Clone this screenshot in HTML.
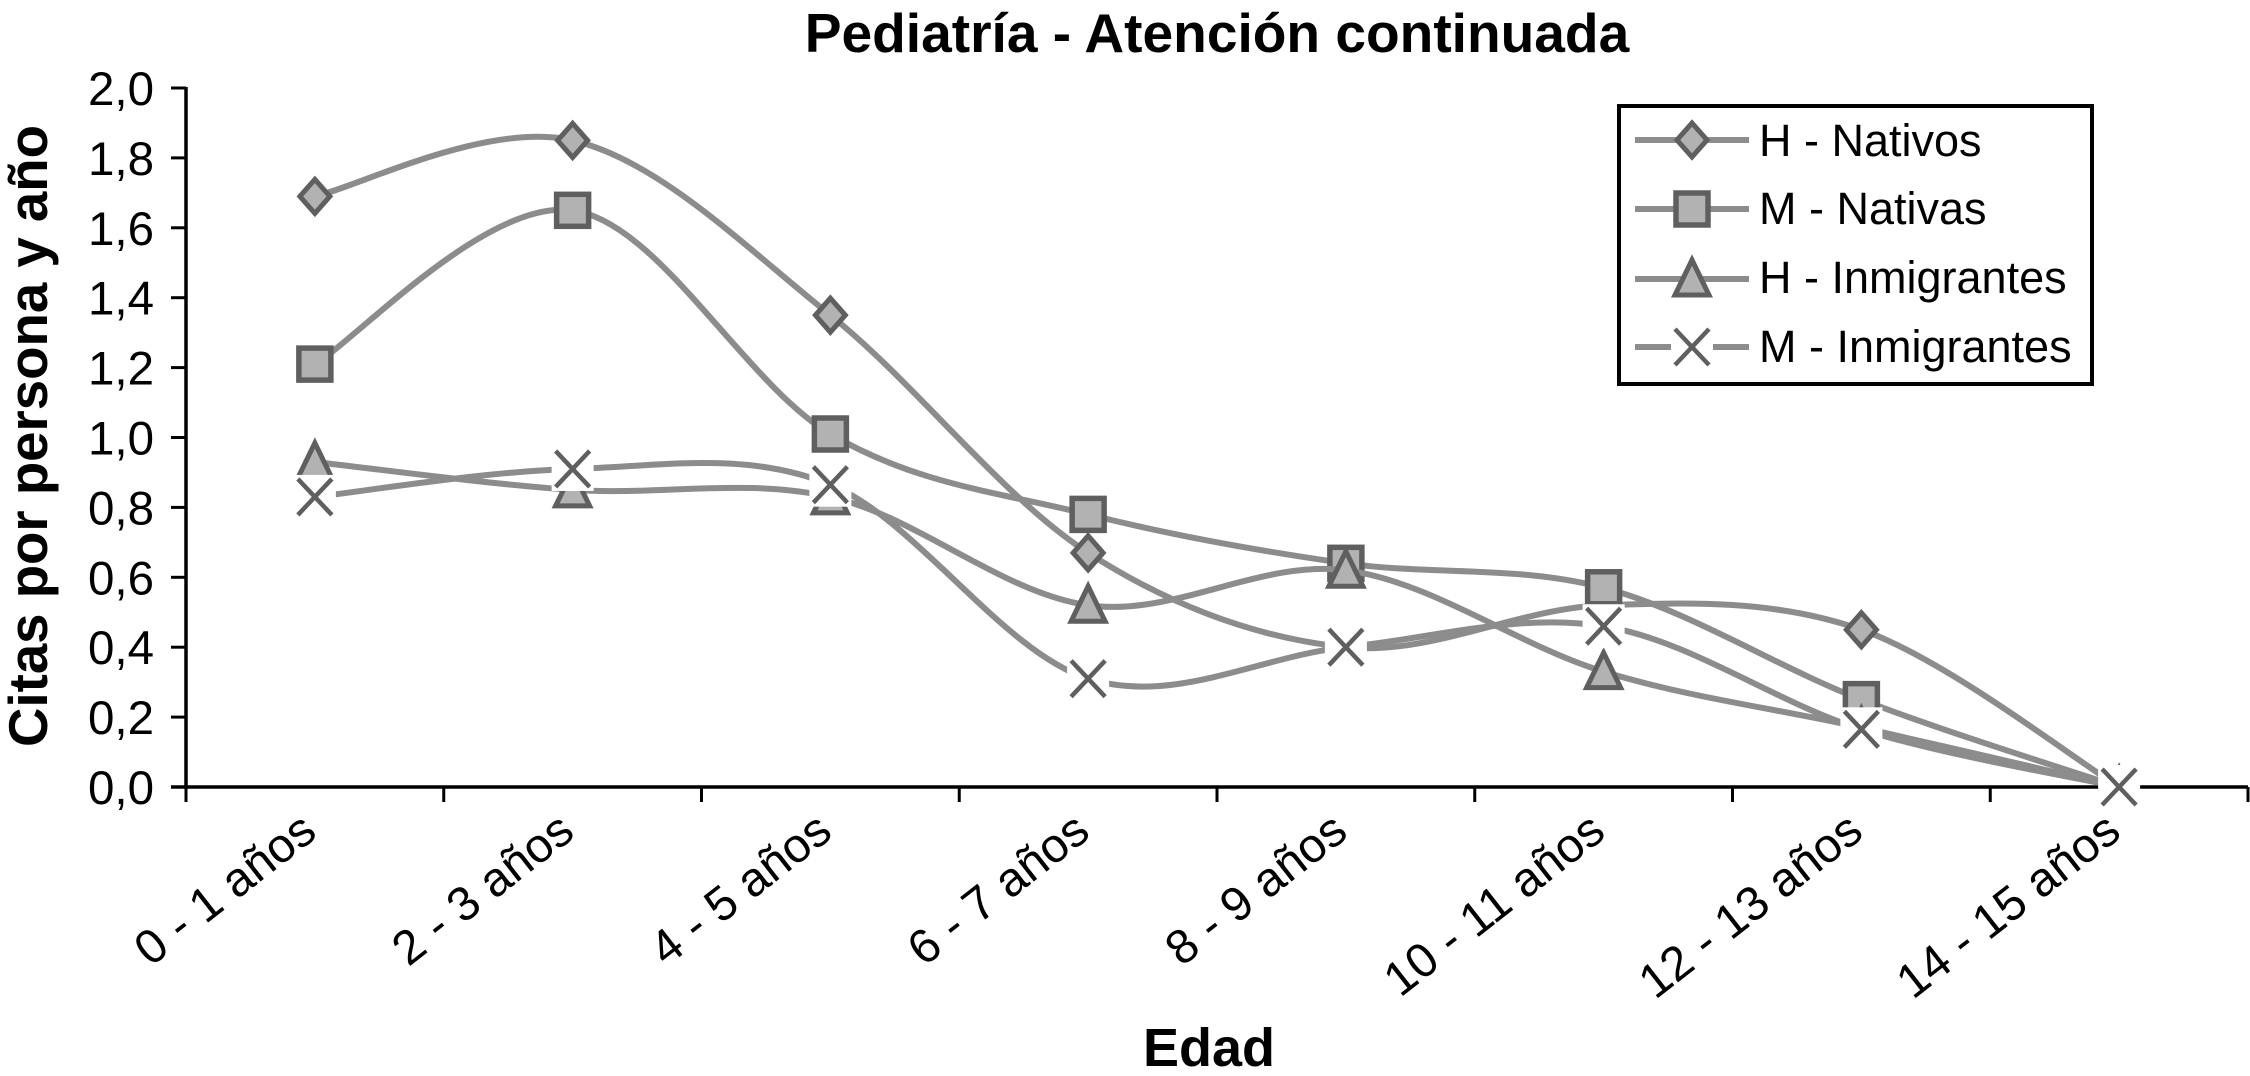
<!DOCTYPE html>
<html lang="es">
<head>
<meta charset="utf-8">
<title>Pediatría - Atención continuada</title>
<style>
html,body{margin:0;padding:0;background:#fff;width:2250px;height:1076px;overflow:hidden}
svg{display:block}
text{font-family:"Liberation Sans",Arial,sans-serif;fill:#000}
</style>
</head>
<body>
<svg id="chart" xmlns="http://www.w3.org/2000/svg" width="2250" height="1076" viewBox="0 0 2250 1076">
  <rect x="0" y="0" width="2250" height="1076" fill="#fff"/>
  <text x="1217" y="52" font-size="55.1" font-weight="700" text-anchor="middle">Pediatría - Atención continuada</text>
  <text transform="translate(47,436) rotate(-90)" font-size="54.6" font-weight="700" text-anchor="middle">Citas por persona y año</text>
  <text x="1209" y="1066" font-size="54" font-weight="700" text-anchor="middle">Edad</text>
  <g id="axes"></g>
  <g id="series"></g>
  <g id="legend">
    <rect x="1619" y="106" width="473" height="278" fill="#fff" stroke="#000" stroke-width="4"/>
  </g>
</svg>
<script>
const categories = ["0 - 1 años","2 - 3 años","4 - 5 años","6 - 7 años","8 - 9 años","10 - 11 años","12 - 13 años","14 - 15 años"];
const yTickLabels = ["0,0","0,2","0,4","0,6","0,8","1,0","1,2","1,4","1,6","1,8","2,0"];
const yTickValues = [0,0.2,0.4,0.6,0.8,1.0,1.2,1.4,1.6,1.8,2.0];
const hNativos = [1.69,1.85,1.35,0.67,0.40,0.52,0.45,0.0];
const mNativas = [1.21,1.65,1.01,0.78,0.64,0.57,0.25,0.0];
const hInmigrantes = [0.93,0.85,0.83,0.52,0.62,0.33,0.17,0.0];
const mInmigrantes = [0.83,0.91,0.865,0.31,0.40,0.46,0.165,0.0];

const NS = "http://www.w3.org/2000/svg";
const LINE = "#8c8c8c", EDGE = "#5f5f5f", FILL = "#b2b2b2";
const plot = {left:186, right:2248, top:88, bottom:787, yMax:2};

function xScale(i){ return plot.left + (plot.right-plot.left)*(i+0.5)/categories.length; }
function xEdge(i){ return plot.left + (plot.right-plot.left)*i/categories.length; }
function yScale(v){ return plot.bottom - (plot.bottom-plot.top)*v/plot.yMax; }

function mk(tag, attrs, parent){
  const el = document.createElementNS(NS, tag);
  for (const k in attrs) el.setAttribute(k, attrs[k]);
  parent.appendChild(el);
  return el;
}

function smoothPath(values){
  const p = values.map((v,i)=>[xScale(i),yScale(v)]);
  let d = "M"+p[0][0]+" "+p[0][1];
  for (let i=0;i<p.length-1;i++){
    const a = p[Math.max(i-1,0)], b = p[i], c = p[i+1], e = p[Math.min(i+2,p.length-1)];
    const c1x = b[0]+(c[0]-a[0])/6, c1y = b[1]+(c[1]-a[1])/6;
    const c2x = c[0]-(e[0]-b[0])/6, c2y = c[1]-(e[1]-b[1])/6;
    d += " C"+c1x+" "+c1y+" "+c2x+" "+c2y+" "+c[0]+" "+c[1];
  }
  return d;
}

function drawMarker(kind, cx, cy, parent){
  const r = 17;
  let el;
  if (kind === "diamond"){
    el = mk("polygon",{points:(cx)+","+(cy-r)+" "+(cx+r-2)+","+cy+" "+cx+","+(cy+r)+" "+(cx-r+2)+","+cy,fill:FILL,stroke:EDGE,"stroke-width":5,"stroke-linejoin":"miter"},parent);
  } else if (kind === "square"){
    el = mk("rect",{x:cx-r+1,y:cy-r+1,width:2*r-2,height:2*r-2,fill:FILL,stroke:EDGE,"stroke-width":5.5},parent);
  } else if (kind === "triangle"){
    el = mk("polygon",{points:cx+","+(cy-r-2)+" "+(cx+r)+","+(cy+r-1)+" "+(cx-r)+","+(cy+r-1),fill:FILL,stroke:EDGE,"stroke-width":5,"stroke-linejoin":"miter"},parent);
  } else {
    el = mk("g",{},parent);
    mk("rect",{x:cx-21,y:cy-22,width:42,height:44,fill:"#fff"},el);
    mk("path",{d:"M"+(cx-17)+" "+(cy-18)+"L"+(cx+17)+" "+(cy+18)+"M"+(cx+17)+" "+(cy-18)+"L"+(cx-17)+" "+(cy+18),fill:"none",stroke:EDGE,"stroke-width":4.5},el);
  }
  return el;
}

const axes = document.getElementById("axes");

const yAxisLine = mk("line",{x1:plot.left,y1:plot.top-1,x2:plot.left,y2:plot.bottom+2,stroke:"#000","stroke-width":3.5},axes);



const xAxisLine = mk("line",{x1:plot.left-15,y1:plot.bottom,x2:plot.right,y2:plot.bottom,stroke:"#000","stroke-width":3.5},axes);



yTickValues.forEach((v,i)=>{
  const t = mk("line",{x1:plot.left-15,y1:yScale(v),x2:plot.left,y2:yScale(v),stroke:"#000","stroke-width":3},axes);
  
  
  const l = mk("text",{x:154,y:yScale(v)+17,"font-size":47.5,"text-anchor":"end"},axes);
  
  
  l.textContent = yTickLabels[i];
});

for (let i=0;i<=categories.length;i++){
  const t = mk("line",{x1:xEdge(i),y1:plot.bottom,x2:xEdge(i),y2:plot.bottom+15,stroke:"#000","stroke-width":3},axes);
  
  
}

categories.forEach((c,i)=>{
  const ax = xScale(i)+4, ay = 836;
  const l = mk("text",{transform:"translate("+ax+","+ay+") rotate(-38)","font-size":48,"text-anchor":"end"},axes);
  
  
  l.textContent = c;
});

const seriesRoot = document.getElementById("series");
const seriesDefs = [
  {name:"h-nativos", label:"H - Nativos", kind:"diamond", values:hNativos, ly:140, by:156},
  {name:"m-nativas", label:"M - Nativas", kind:"square", values:mNativas, ly:209, by:224},
  {name:"h-inmigrantes", label:"H - Inmigrantes", kind:"triangle", values:hInmigrantes, ly:279, by:293},
  {name:"m-inmigrantes", label:"M - Inmigrantes", kind:"cross", values:mInmigrantes, ly:347, by:362}
];

seriesDefs.forEach(s=>{
  const g = mk("g",{},seriesRoot);
  
  
  const line = mk("path",{d:smoothPath(s.values),fill:"none",stroke:LINE,"stroke-width":6},g);
  
  
  s.values.forEach((v,i)=>{
    const m = drawMarker(s.kind,xScale(i),yScale(v),g);
    
    
  });
});

const legend = document.getElementById("legend");
seriesDefs.forEach(s=>{
  const g = mk("g",{},legend);
  
  
  mk("line",{x1:1635,y1:s.ly,x2:1749,y2:s.ly,stroke:LINE,"stroke-width":6},g);
  drawMarker(s.kind,1692,s.ly,g);
  const t = mk("text",{x:1759,y:s.by,"font-size":45},g);
  t.textContent = s.label;
});
</script>
</body>
</html>
